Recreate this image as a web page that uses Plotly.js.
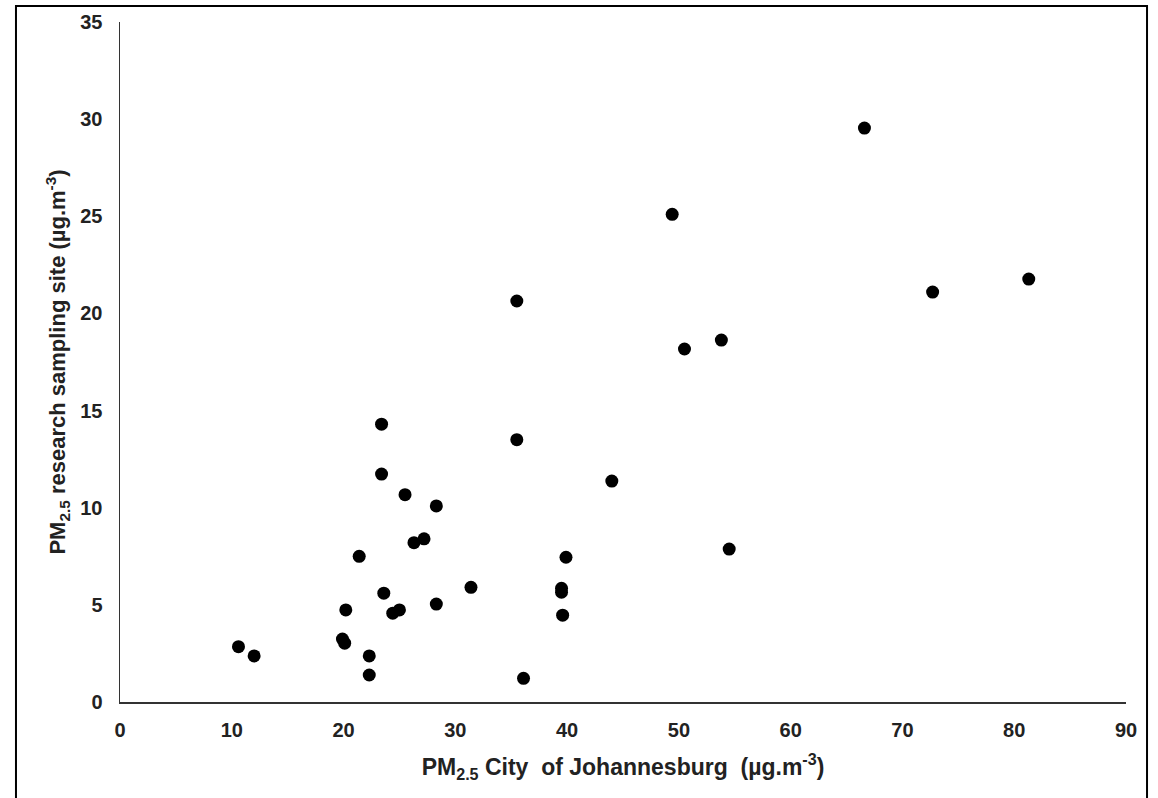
<!DOCTYPE html>
<html>
<head>
<meta charset="utf-8">
<script src="https://cdn.plot.ly/plotly-3.0.1.min.js"></script>
<style>html,body{margin:0;padding:0;background:#fff;}#chart{width:1158px;height:798px;}</style>
</head>
<body>
<div id="chart"></div>
<script>
// PM2.5 City of Johannesburg (x) vs research sampling site (y), µg.m-3
const cityJhb = [10.6, 12.0, 19.9, 20.1, 20.2, 21.4, 22.3, 22.3, 23.4, 23.4, 23.6, 24.4, 25.0, 25.5, 26.3, 27.2, 28.3, 28.3, 31.4, 35.5, 35.5, 36.1, 39.5, 39.5, 39.6, 39.9, 44.0, 49.4, 50.5, 53.8, 54.5, 66.6, 72.7, 81.3];
const researchSite = [2.85, 2.37, 3.24, 3.03, 4.74, 7.5, 2.37, 1.39, 14.3, 11.73, 5.6, 4.57, 4.74, 10.67, 8.2, 8.4, 10.09, 5.04, 5.9, 20.64, 13.5, 1.22, 5.85, 5.65, 4.47, 7.45, 11.37, 25.1, 18.17, 18.63, 7.87, 29.54, 21.1, 21.77];
const xTicks = [0, 10, 20, 30, 40, 50, 60, 70, 80, 90];
const yTicks = [0, 5, 10, 15, 20, 25, 30, 35];

const fam = 'Liberation Sans, Arial, sans-serif';
const tickFont = {family: fam, color: '#222', size: 20, weight: 'bold'};

Plotly.newPlot('chart', [{
  x: cityJhb,
  y: researchSite,
  type: 'scatter',
  mode: 'markers',
  marker: {color: '#000', size: 13},
  cliponaxis: false,
  hoverinfo: 'x+y'
}], {
  width: 1158,
  height: 798,
  margin: {l: 120, r: 32, t: 22, b: 96},
  paper_bgcolor: '#fff',
  plot_bgcolor: '#fff',
  showlegend: false,
  xaxis: {
    range: [0, 90],
    tickvals: xTicks,
    ticktext: xTicks.map(String),
    showgrid: false,
    zeroline: false,
    showline: true,
    linecolor: '#333',
    linewidth: 1.5,
    ticks: '',
    ticklabelstandoff: 9,
    tickfont: tickFont,
    automargin: true,
    title: {
      text: 'PM<sub>2.5</sub> City  of Johannesburg  (µg.m<sup>-3</sup>)',
      font: {family: fam, color: '#222', size: 23, weight: 'bold'},
      standoff: 19
    }
  },
  yaxis: {
    range: [0, 35],
    tickvals: yTicks,
    ticktext: yTicks.map(String),
    showgrid: false,
    zeroline: false,
    showline: true,
    linecolor: '#333',
    linewidth: 1.5,
    ticks: '',
    ticklabelstandoff: 12,
    tickfont: tickFont,
    automargin: true,
    title: {
      text: 'PM<sub>2.5</sub> research sampling site (µg.m<sup>-3</sup>)',
      font: {family: fam, color: '#222', size: 22, weight: 'bold'},
      standoff: 8
    }
  },
  shapes: [{
    type: 'rect', xref: 'paper', yref: 'paper',
    x0: -0.1034, x1: 1.0209, y0: -0.16, y1: 1.0235,
    line: {color: '#000', width: 2}, fillcolor: 'rgba(0,0,0,0)', layer: 'below'
  }]
}, {displayModeBar: false, staticPlot: true});
</script>
</body>
</html>
